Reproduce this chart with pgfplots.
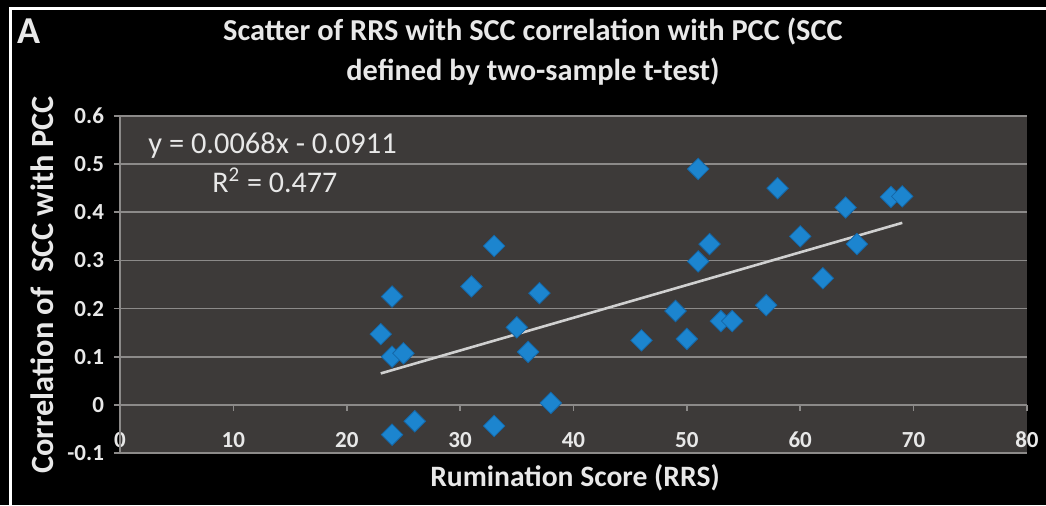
\documentclass[border=0pt]{standalone}
\usepackage{fontspec}
\setmainfont{Carlito}
\usepackage{pgfplots}
\pgfplotsset{compat=1.18}
\definecolor{bgplot}{HTML}{3D3A39}
\definecolor{gridc}{HTML}{8C8A89}
\definecolor{ptblue}{HTML}{1C85CF}
\definecolor{ptedge}{HTML}{1467A8}
\definecolor{txt}{HTML}{E8E8E8}
\definecolor{trend}{HTML}{D0D0D0}
\pgfplotstableread{
x y
23 0.147
24 0.225
24 0.100
25 0.107
24 -0.062
26 -0.034
31 0.246
33 0.330
33 -0.044
35 0.161
37 0.232
36 0.110
38 0.004
46 0.134
49 0.195
50 0.137
51 0.490
51 0.298
52 0.334
53 0.174
54 0.174
57 0.207
58 0.450
60 0.350
62 0.263
64 0.410
65 0.334
68 0.432
69 0.433
}\datatab
\begin{document}
\begin{tikzpicture}
\fill[black] (0pt,0pt) rectangle (523pt,252.5pt);
\fill[white] (4.5pt,247.5pt) rectangle (523pt,249.2pt);
\fill[white] (4.5pt,0pt) rectangle (6pt,249.2pt);
\begin{axis}[at={(60pt,26pt)}, anchor=south west, scale only axis,
  width=453.5pt, height=168.5pt,
  xmin=0, xmax=80, ymin=-0.1, ymax=0.6,
  axis background/.style={fill=bgplot},
  axis line style={draw=none},
  ymajorgrids, grid style={gridc, line width=0.8pt},
  xtick={0,10,20,30,40,50,60,70,80},
  ytick={-0.1,0,0.1,0.2,0.3,0.4,0.5,0.6},
  yticklabels={-0.1,0,0.1,0.2,0.3,0.4,0.5,0.6},
  xticklabels={0,10,20,30,40,50,60,70,80},
  xtick style={draw=none},
  ytick style={gridc, line width=0.8pt},
  ytick pos=left, xtick pos=bottom,
  tick align=outside, major tick length=3pt,
  tick label style={font=\fontsize{11.5}{12}\selectfont\bfseries, text=txt},
  xticklabel style={anchor=center, yshift=9.5pt},
  yticklabel style={anchor=east, xshift=-1.5pt},
  /pgf/number format/assume math mode=true,
  clip=false,
]
\draw[gridc, line width=0.8pt] (axis cs:0,-0.1) -- (axis cs:0,0.6);
\pgfplotsinvokeforeach{10,20,30,40,50,60,70,80}{\draw[gridc, line width=0.8pt] (axis cs:#1,0) -- ++(0pt,-3pt);}
\addplot[only marks, mark=square*, mark size=3.8pt, mark options={rotate=45, fill=ptblue, draw=ptedge, line width=0.4pt}] table[x=x,y=y] {\datatab};
\addplot[trend, line width=1.3pt] coordinates {(23,0.0653) (69,0.3781)};
\end{axis}
\node[font=\fontsize{19}{20}\selectfont\bfseries, text=txt] at (14.5pt,237pt) {A};
\node[font=\fontsize{15.2}{20}\selectfont\bfseries, text=txt, align=center] at (266.5pt,226.5pt) {Scatter of RRS with SCC correlation with PCC (SCC\\defined by two-sample t-test)};
\node[anchor=base west, font=\fontsize{15.2}{16}\selectfont, text=txt, inner sep=0pt] at (74pt,176pt) {y = 0.0068x - 0.0911};
\node[anchor=base west, font=\fontsize{15}{16}\selectfont, text=txt, inner sep=0pt] at (106pt,156.5pt) {R\textsuperscript{2} = 0.477};
\node[rotate=90, font=\fontsize{16.2}{18}\selectfont\bfseries, text=txt] at (21pt,110pt) {Correlation of\ \ SCC with PCC};
\node[font=\fontsize{14.8}{16}\selectfont\bfseries, text=txt] at (287.5pt,13.5pt) {Rumination Score (RRS)};
\pgfresetboundingbox
\useasboundingbox (0pt,0pt) rectangle (523pt,252.5pt);
\end{tikzpicture}
\end{document}
